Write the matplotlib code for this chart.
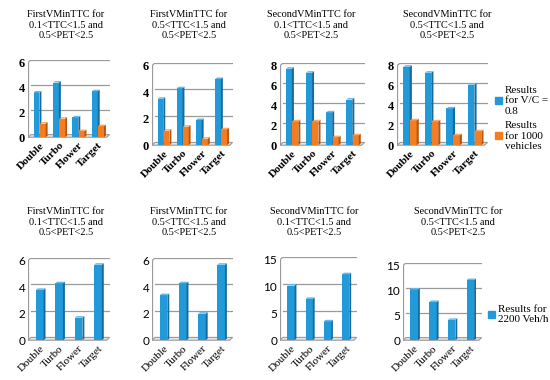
import matplotlib
matplotlib.use("Agg")
import matplotlib.pyplot as plt
from matplotlib.patches import Patch
import numpy as np

plt.rcParams['font.family'] = ['Liberation Serif', 'DejaVu Serif']

categories = ['Double', 'Turbo', 'Flower', 'Target']

titles = [
    'FirstVMinTTC for\n0.1<TTC<1.5 and\n0.5<PET<2.5',
    'FirstVMinTTC for\n0.5<TTC<1.5 and\n0.5<PET<2.5',
    'SecondVMinTTC for\n0.1<TTC<1.5 and\n0.5<PET<2.5',
    'SecondVMinTTC for\n0.5<TTC<1.5 and\n0.5<PET<2.5',
]

# top row: V/C = 0.8 (blue) and 1000 vehicles (orange)
vc08 = [
    [3.6, 4.4, 1.6, 3.7],
    [3.5, 4.3, 1.9, 5.0],
    [7.7, 7.3, 3.3, 4.6],
    [7.9, 7.3, 3.7, 6.1],
]
veh1000 = [
    [1.1, 1.5, 0.5, 0.9],
    [1.1, 1.4, 0.5, 1.2],
    [2.4, 2.4, 0.8, 1.0],
    [2.5, 2.4, 1.0, 1.4],
]
# bottom row: 2200 Veh/h
veh2200 = [
    [3.8, 4.3, 1.7, 5.7],
    [3.4, 4.3, 2.0, 5.7],
    [10.2, 7.7, 3.5, 12.3],
    [10.2, 7.7, 4.1, 12.1],
]

top_ymax = [6, 6, 8, 8]
top_step = [2, 2, 2, 2]
bot_ymax = [6, 6, 15, 15]
bot_step = [2, 2, 5, 5]

top_pos = [(28, 110, 60, 138), (152, 233, 63, 146), (280, 365, 63, 146), (397, 488, 63, 146)]
bot_pos = [(28, 110, 258, 341), (152, 233, 258, 341), (280, 357, 257, 341), (403, 482, 263, 341)]
top_title_x = [66, 189, 311, 447]
bot_title_x = [66, 189, 314, 458]

BLUE = '#2299d8'
BLUE_SIDE = '#166a9c'
BLUE_TOP = '#64bbe9'
ORANGE = '#f47d22'
ORANGE_SIDE = '#b55610'
ORANGE_TOP = '#f9aa66'
GRID = '#9a9a9a'

W, H = 550, 380
fig = plt.figure(figsize=(5.5, 3.8), dpi=100)


def bar3d(ax, xs, vals, width, ymax, front, side, top):
    dx = 0.1
    dy = ymax * 0.02
    for x, v in zip(xs, vals):
        ax.bar(x, v, width=width, color=front, zorder=3, linewidth=0)
        xr = x + width / 2
        xl = x - width / 2
        ax.fill([xr, xr + dx, xr + dx, xr], [0, dy, v + dy, v], color=side, zorder=3, lw=0)
        ax.fill([xl, xl + dx, xr + dx, xr], [v, v + dy, v + dy, v], color=top, zorder=3, lw=0)


def frame(ax, ymax, step, bold):
    x0, x1 = -0.6, 3.6
    ox = 0.15
    oy = ymax * 0.035
    ax.set_xlim(x0, x1 + 0.02)
    ax.set_ylim(-ymax * 0.01, ymax + oy)
    ticks = np.arange(0, ymax + step / 2, step)
    for t in ticks[1:]:
        ax.plot([x0 + ox, x1], [t + oy, t + oy], color=GRID, lw=0.9, zorder=1)
    # left wall and floor
    ax.plot([x0, x0], [0, ymax], color=GRID, lw=0.9, zorder=1)
    ax.plot([x0, x0 + ox], [ymax, ymax + oy], color=GRID, lw=0.9, zorder=1)
    ax.fill([x0, x1 - ox, x1, x0 + ox], [0, 0, oy, oy], color='#e6e6e6', ec=GRID, lw=0.8, zorder=2)
    for s in ax.spines.values():
        s.set_visible(False)
    ax.set_yticks(ticks)
    ax.set_xticks(range(len(categories)))
    ax.tick_params(length=0, pad=2)
    if bold:
        ax.set_yticklabels([f'{int(t)}' for t in ticks], fontsize=9, fontweight='bold')
        ax.set_xticklabels(categories, rotation=45, ha='right', rotation_mode='anchor',
                           fontsize=8, fontweight='bold')
    else:
        ax.set_yticklabels([f'{int(t)}' for t in ticks], fontsize=8.5, family='Lato')
        ax.set_xticklabels(categories, rotation=45, ha='right', rotation_mode='anchor',
                           fontsize=8)


for i in range(4):
    l, r, t, b = top_pos[i]
    ax = fig.add_axes([l / W, 1 - b / H, (r - l) / W, (b - t) / H])
    xs = np.arange(len(categories))
    bar3d(ax, xs - 0.16, vc08[i], 0.3, top_ymax[i], BLUE, BLUE_SIDE, BLUE_TOP)
    bar3d(ax, xs + 0.16, veh1000[i], 0.3, top_ymax[i], ORANGE, ORANGE_SIDE, ORANGE_TOP)
    frame(ax, top_ymax[i], top_step[i], True)
    fig.text(top_title_x[i] / W, 1 - 25 / H, titles[i], ha='center', va='center',
             fontsize=7.4, linespacing=1.2)

for i in range(4):
    l, r, t, b = bot_pos[i]
    ax = fig.add_axes([l / W, 1 - b / H, (r - l) / W, (b - t) / H])
    xs = np.arange(len(categories))
    bar3d(ax, xs, veh2200[i], 0.4, bot_ymax[i], BLUE, BLUE_SIDE, BLUE_TOP)
    frame(ax, bot_ymax[i], bot_step[i], False)
    fig.text(bot_title_x[i] / W, 1 - 222 / H, titles[i], ha='center', va='center',
             fontsize=7.4, linespacing=1.2)

h1 = [Patch(color=BLUE), Patch(color=ORANGE)]
fig.legend(h1, ['Results\nfor V/C =\n0.8', 'Results\nfor 1000\nvehicles'],
           loc='upper left', bbox_to_anchor=(495 / W, 1 - 86 / H), frameon=False,
           fontsize=8, handlelength=0.6, handleheight=0.6, handletextpad=0.3,
           labelspacing=0.5, borderpad=0, borderaxespad=0)
fig.legend([Patch(color=BLUE)], ['Results for\n2200 Veh/h'],
           loc='upper left', bbox_to_anchor=(488 / W, 1 - 305 / H), frameon=False,
           fontsize=8, handlelength=0.6, handleheight=0.6, handletextpad=0.3,
           borderpad=0, borderaxespad=0)

fig.savefig('out.png', dpi=100, facecolor='white')
